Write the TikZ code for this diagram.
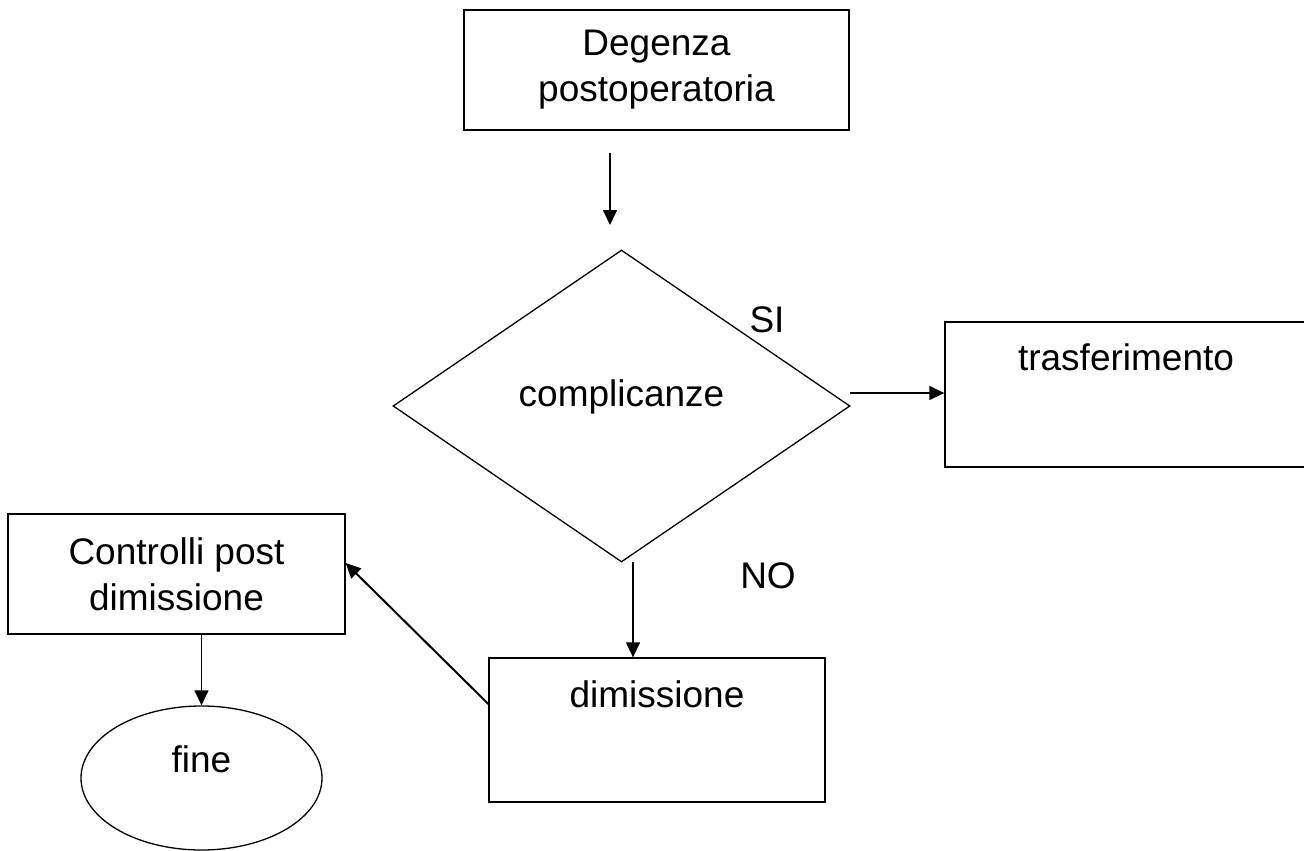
\documentclass[tikz,border=0pt]{standalone}
\usepackage{fontspec}
\setmainfont{Liberation Sans}
\usetikzlibrary{shapes.geometric,arrows.meta}
\newcommand{\liftxt}[2]{\raisebox{#1}[0pt][0pt]{#2}}
\begin{document}
\begin{tikzpicture}[x=1pt,y=-1pt,
  every node/.style={font=\fontsize{37}{46}\selectfont},
  boxnode/.style={draw,line width=1.3pt,rectangle,inner sep=0pt,align=center},
  flowarrow/.style={line width=1.3pt,-{Triangle[length=15pt,width=14pt]}},
  lbl/.style={inner sep=0pt}]
\useasboundingbox (0,0) rectangle (1304,851);
\node[boxnode,minimum width=385pt,minimum height=120pt] (deg) at (656.5,70) {Degenza\\postoperatoria};
\coordinate (a1s) at (610,153);
\coordinate (a1e) at (610,225);
\draw[flowarrow] (a1s) -- (a1e);
\node[draw,line width=1.3pt,diamond,inner sep=0pt,minimum width=457pt,minimum height=312pt] (dia) at (621.5,406) {\liftxt{0pt}{complicanze}};
\node[lbl] (si) at (767,320) {SI};
\node[boxnode,minimum width=362pt,minimum height=145pt] (tra) at (1126,394.5) {\liftxt{24pt}{trasferimento}};
\coordinate (s2) at (850,393);
\draw[flowarrow] (s2) -- (s2 -| tra.west);
\node[lbl] (no) at (768,576) {NO};
\node[boxnode,minimum width=336pt,minimum height=144pt] (dim) at (657,730) {\liftxt{23pt}{dimissione}};
\coordinate (s3) at (633,562);
\draw[flowarrow] (s3) -- (s3 |- dim.north);
\node[boxnode,minimum width=337pt,minimum height=120pt] (con) at (176.5,574) {Controlli post\\dimissione};
\draw[flowarrow,line width=2pt] ([yshift=26pt]dim.west) -- ([yshift=11pt]con.east);
\node[draw,line width=1.3pt,ellipse,inner sep=0pt,minimum width=241pt,minimum height=144pt] (fine) at (201.5,778) {\liftxt{6pt}{fine}};
\draw[flowarrow] (con.south -| fine.north) -- (fine.north);
\end{tikzpicture}
\end{document}
